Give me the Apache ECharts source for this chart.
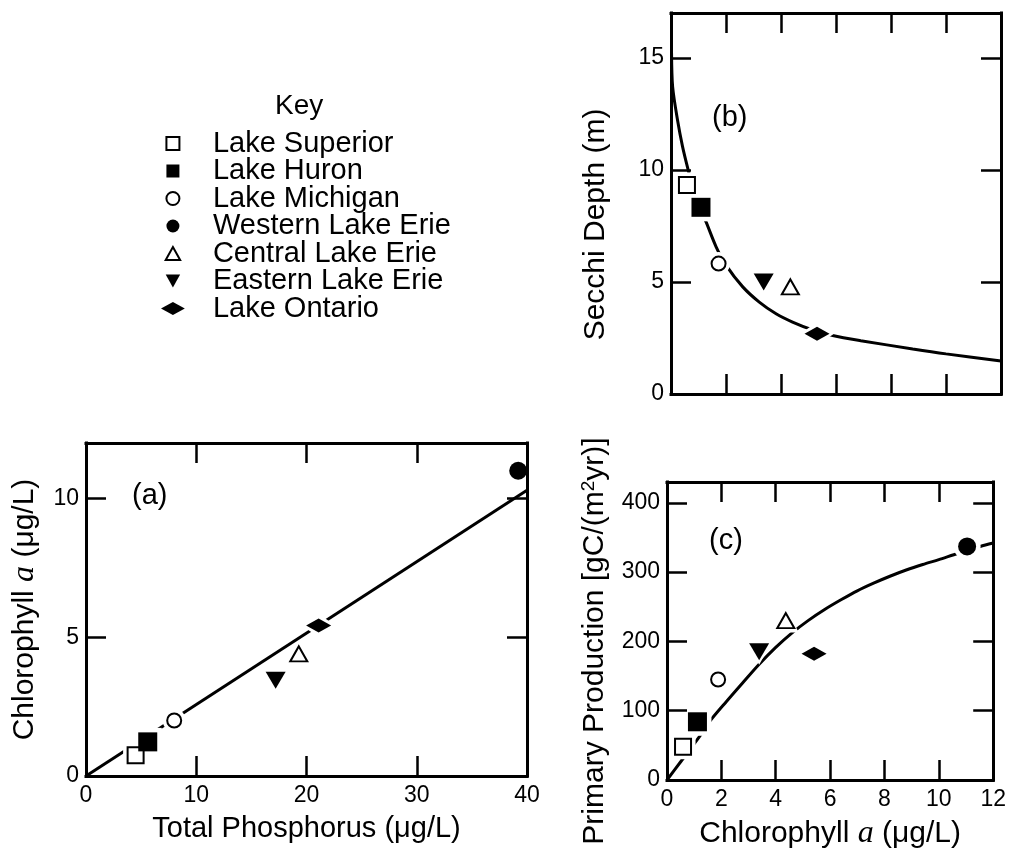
<!DOCTYPE html>
<html>
<head>
<meta charset="utf-8">
<script src="https://cdn.jsdelivr.net/npm/echarts@6/dist/echarts.min.js"></script>
<style>
html,body{margin:0;padding:0;background:#fff;}
#chart{width:1009px;height:855px;}
</style>
</head>
<body>
<div id="chart"></div>
<script>
// ---------- data ----------
const lakes = ['Lake Superior','Lake Huron','Lake Michigan','Western Lake Erie','Central Lake Erie','Eastern Lake Erie','Lake Ontario'];
// (a) Total phosphorus vs chlorophyll a
const tpA  = [4.5, 5.6, 8.0, 39.2, 19.3, 17.2, 21.1];
const chlA = [0.75, 1.23, 2.0, 11.0, 4.4, 3.45, 5.42];
// (b) chlorophyll a vs Secchi depth (Western Lake Erie not shown)
const chlB    = [0.58, 1.09, 1.73, null, 4.34, 3.37, 5.31];
const secchiB = [9.33, 8.33, 5.82, null, 4.78, 5.0, 2.69];
// (c) chlorophyll a vs primary production
const chlC = [0.59, 1.12, 1.88, 11.04, 4.37, 3.39, 5.41];
const ppC  = [48, 84, 145, 337, 230, 185, 182];
// fitted curves
const fitAx = [0, 40];
const fitAy = [0, 10.3];
const fitBx = [0.02, 0.06, 0.24, 0.42, 0.61, 0.9, 1.27, 1.64, 2.0, 2.61, 3.21, 3.82, 4.42, 5.15, 5.88, 6.9, 8.79, 10.0, 12.0];
const fitBy = [15.2, 13.7, 12.2, 11.04, 10.07, 8.7, 7.69, 6.57, 5.75, 4.78, 4.1, 3.58, 3.21, 2.86, 2.61, 2.38, 2.01, 1.79, 1.47];
const fitCx = [0, 0.49, 1.2, 1.58, 2.18, 2.78, 3.39, 3.99, 4.59, 5.19, 5.8, 6.4, 7.0, 7.6, 8.2, 8.8, 9.41, 10.0, 10.55, 11.04, 11.52, 12.0];
const fitCy = [0, 25.6, 63, 85, 113, 140, 167, 191, 212, 230, 246, 260, 273, 284, 294, 303, 311, 318, 325, 331, 337, 342];
const ticksA = {xMax: 40, xStep: 10, yMax: 12, yStep: 5};
const ticksB = {xMax: 12, xStep: 2, yMax: 17, yStep: 5};
const ticksC = {xMax: 12, xStep: 2, yMax: 430, yStep: 100};

// ---------- styles ----------
const F = "'Liberation Sans', Arial, Helvetica, sans-serif";
const markers = [
  {symbol:'rect', size:16, fill:'#fff', open:true, rotate:0, icon:'path://M0,0L10,0L10,10L0,10Z'},
  {symbol:'rect', size:19, fill:'#000', open:false, rotate:0, icon:'path://M0,0L10,0L10,10L0,10Z'},
  {symbol:'circle', size:14, fill:'#fff', open:true, rotate:0, icon:'circle'},
  {symbol:'circle', size:18, fill:'#000', open:false, rotate:0, icon:'circle'},
  {symbol:'triangle', size:[17,15], fill:'#fff', open:true, rotate:0, icon:'path://M5,0L10,9L0,9Z'},
  {symbol:'triangle', size:[20,17], fill:'#000', open:false, rotate:180, icon:'path://M0,0L10,0L5,9Z'},
  {symbol:'diamond', size:[25,14], fill:'#000', open:false, rotate:0, icon:'path://M0,6L11,0L22,6L11,12Z'}
];
const grids = [
  {left:86, top:443, width:441, height:333},
  {left:671, top:13, width:330, height:381},
  {left:667, top:482, width:331, height:298}
];

function pairs(xs, ys){ const out=[]; for(let i=0;i<xs.length;i++){ if(xs[i]!=null && ys[i]!=null) out.push([xs[i], ys[i]]); } return out; }

const tickStyle = {show:true, inside:true, length:20, lineStyle:{color:'#000', width:2.5}};
const lineStyle = {show:true, onZero:false, lineStyle:{color:'#000', width:3, cap:'square'}};
const labelStyle = {color:'#000', fontSize:23, fontFamily:F};
const richA = {i:{fontFamily:"'Liberation Serif', serif", fontStyle:'italic', fontSize:32}};

function mkAxes(gi, t, pos, labels, extra){
  const isX = pos==='bottom'||pos==='top';
  const max = isX ? t.xMax : t.yMax, step = isX ? t.xStep : t.yStep;
  return Object.assign({
    type:'value', gridIndex:gi, position:pos, min:0, max:max, interval:step, z:10,
    axisLine:lineStyle, axisTick:tickStyle, splitLine:{show:false},
    axisLabel:Object.assign({show:labels}, labelStyle, {showMaxLabel: isX ? true : false, margin: isX ? 8 : 7})
  }, extra||{});
}

const xAxes = [
  mkAxes(0, ticksA, 'bottom', true, {name:'Total Phosphorus (μg/L)', nameLocation:'middle', nameGap:37,
    nameTextStyle:{color:'#000', fontSize:29, fontFamily:F, lineHeight:32}}),
  mkAxes(0, ticksA, 'top', false),
  mkAxes(1, ticksB, 'bottom', false),
  mkAxes(1, ticksB, 'top', false),
  mkAxes(2, ticksC, 'bottom', true, {name:'Chlorophyll {i|a} (μg/L)', nameLocation:'middle', nameGap:38,
    nameTextStyle:{color:'#000', fontSize:30, fontFamily:F, lineHeight:32, rich:richA}}),
  mkAxes(2, ticksC, 'top', false)
];
const yAxes = [
  mkAxes(0, ticksA, 'left', true, {name:'Chlorophyll {i|a} (μg/L)', nameLocation:'middle', nameGap:45,
    nameTextStyle:{color:'#000', fontSize:30, fontFamily:F, lineHeight:32, rich:richA}}),
  mkAxes(0, ticksA, 'right', false),
  mkAxes(1, ticksB, 'left', true, {name:'Secchi Depth (m)', nameLocation:'middle', nameGap:59,
    nameTextStyle:{color:'#000', fontSize:30, fontFamily:F, lineHeight:32, padding:[0,42,0,0]}}),
  mkAxes(1, ticksB, 'right', false),
  mkAxes(2, ticksC, 'left', true, {name:'Primary Production [gC/(m{s|2}yr)]', nameLocation:'middle', nameGap:56,
    nameTextStyle:{color:'#000', fontSize:30, fontFamily:F, lineHeight:32, padding:[0,20,0,0],
      rich:{s:{fontSize:19, fontFamily:F, verticalAlign:'top', lineHeight:20, padding:[0,0,8,0]}}}}),
  mkAxes(2, ticksC, 'right', false)
];

const panels = [
  {xs:tpA, ys:chlA, fx:fitAx, fy:fitAy, smooth:false},
  {xs:chlB, ys:secchiB, fx:fitBx, fy:fitBy, smooth:0.3},
  {xs:chlC, ys:ppC, fx:fitCx, fy:fitCy, smooth:0.3}
];

const series = [];
panels.forEach((p, pi) => {
  series.push({
    type:'line', name:'fit'+pi, xAxisIndex:pi*2, yAxisIndex:pi*2, z:2,
    data:pairs(p.fx, p.fy), showSymbol:false, smooth:p.smooth, silent:true,
    lineStyle:{color:'#000', width:3}
  });
  // white halo that breaks the fitted line around each marker
  const halo = [];
  lakes.forEach((l, i) => {
    if (p.xs[i]==null) return;
    const m = markers[i];
    const sz = Array.isArray(m.size) ? [m.size[0]+9, m.size[1]+9] : m.size+9;
    halo.push({value:[p.xs[i], p.ys[i]], symbol:m.symbol, symbolSize:sz, symbolRotate:m.rotate});
  });
  series.push({type:'scatter', name:'halo'+pi, xAxisIndex:pi*2, yAxisIndex:pi*2, z:3, silent:true,
    data:halo, itemStyle:{color:'#fff', opacity:1}});
  lakes.forEach((l, i) => {
    if (p.xs[i]==null) return;
    const m = markers[i];
    series.push({
      type:'scatter', name:l, xAxisIndex:pi*2, yAxisIndex:pi*2, z:4,
      symbol:m.symbol, symbolSize:m.size, symbolRotate:m.rotate,
      data:[[p.xs[i], p.ys[i]]],
      itemStyle:{color:m.fill, borderColor:'#000', borderWidth:m.open?2:0, opacity:1}
    });
  });
});

const panelLabel = {color:'#000', fontSize:29, fontWeight:'normal', fontFamily:F, lineHeight:30};
const option = {
  backgroundColor:'#fff',
  animation:false,
  title:[
    {text:'Key', left:275, top:91, padding:0, textStyle:{color:'#000', fontSize:28, fontWeight:'normal', fontFamily:F, lineHeight:30}},
    {text:'(a)', left:132, top:481, padding:0, textStyle:panelLabel},
    {text:'(b)', left:712, top:103, padding:0, textStyle:panelLabel},
    {text:'(c)', left:709, top:526, padding:0, textStyle:panelLabel}
  ],
  legend:{
    orient:'vertical', left:161, top:129, padding:0, itemGap:-1.5,
    itemWidth:70, itemHeight:13, symbolKeepAspect:true, selectedMode:false,
    textStyle:{color:'#000', fontSize:29, fontFamily:F, lineHeight:27.3},
    data: lakes.map((l, i) => ({name:l, icon:markers[i].icon,
      itemStyle:{color:markers[i].fill, borderColor:'#000', borderWidth:markers[i].open?2:0}}))
  },
  grid:grids,
  xAxis:xAxes,
  yAxis:yAxes,
  series:series
};

const chart = echarts.init(document.getElementById('chart'), null, {renderer:'canvas'});
chart.setOption(option);
</script>
</body>
</html>
